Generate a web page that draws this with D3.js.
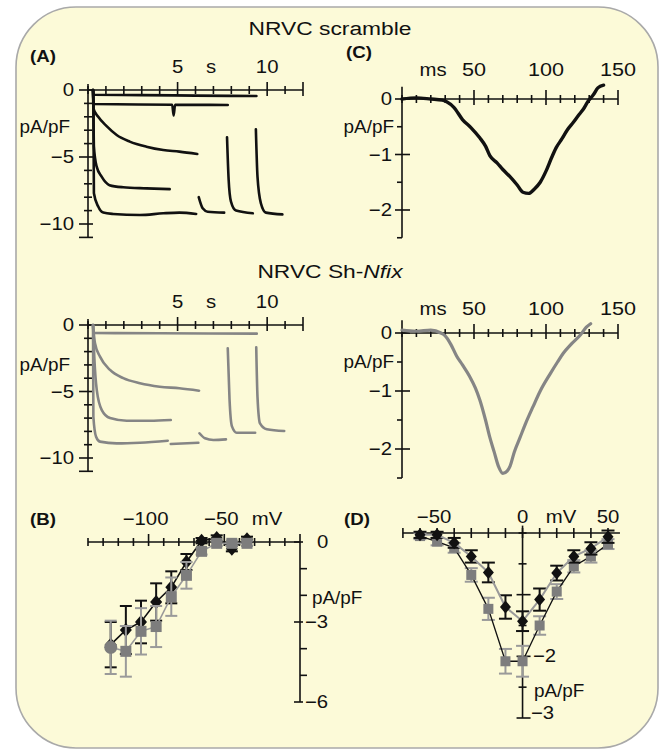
<!DOCTYPE html>
<html><head><meta charset="utf-8">
<script src="https://cdn.jsdelivr.net/npm/d3@7"></script>
<style>
body{margin:0;background:#fff}
svg{display:block}
text{font-family:"Liberation Sans",Arial,sans-serif;fill:#111}
</style></head>
<body><svg id="c" width="664" height="750"></svg>
<script>
// ---------------- DATA ----------------
const titleTop = "NRVC scramble";
const titleBottomPlain = "NRVC Sh-";
const titleBottomItalic = "Nfix";
const panelLabels = ["(A)", "(B)", "(C)", "(D)"];

// Panel A: current density (pA/pF) vs time (s), traces as [s, pA/pF]
const aTickLabels = [5, 10];
const aYTickLabels = [0, -5, -10];
const aScr1 = [[0.28,0],[0.32,-0.35],[3,-0.38],[6,-0.42],[9.4,-0.45]];
const aScr2 = [[0.28,0],[0.32,-1.05],[4.7,-1.1],[4.78,-1.9],[4.86,-1.1],[7.8,-1.12]];
const aScr3 = [[0.28,0],[0.3,-1.37],[0.57,-2.0],[1.04,-2.7],[1.6,-3.36],[2.33,-3.85],[3.26,-4.23],[4.2,-4.48],[5.1,-4.6],[6.1,-4.78]];
const aScr4 = [[0.28,0],[0.3,-1],[0.33,-4.23],[0.48,-5.7],[0.76,-6.47],[1.2,-7.1],[1.96,-7.26],[3.26,-7.34],[4.56,-7.4]];
const aScr5 = [[0.28,0],[0.3,-1],[0.33,-7.7],[0.57,-8.7],[0.85,-9.15],[1.4,-9.25],[2.9,-9.33],[4.2,-9.2],[5.1,-9.15],[6.04,-9.25]];
const aScr6 = [[6.18,-8.0],[6.4,-8.83],[6.68,-9.08],[7.6,-9.15]];
const aScr7 = [[7.76,-3.53],[7.85,-6.7],[7.98,-8.33],[8.26,-9.0],[9.2,-9.2]];
const aScr8 = [[9.37,-2.94],[9.46,-6.47],[9.65,-8.46],[9.93,-9.15],[10.85,-9.28]];

const aSh1 = [[0.28,0],[0.3,-0.6],[4,-0.62],[9.42,-0.65]];
const aSh2 = [[0.28,0],[0.39,-1.37],[0.67,-2.38],[1.23,-3.38],[1.97,-4.0],[2.9,-4.38],[4.0,-4.64],[5.1,-4.76],[6.2,-4.94]];
const aSh3 = [[0.28,0],[0.35,-2.38],[0.49,-4.9],[0.77,-6.4],[1.23,-7.0],[2.16,-7.2],[3.46,-7.2],[4.62,-7.14]];
const aSh4 = [[0.28,0],[0.3,-6.9],[0.45,-8.4],[0.67,-8.77],[1.6,-8.9],[2.9,-8.85],[4.45,-8.7]];
const aSh5 = [[4.62,-8.95],[6.16,-8.85]];
const aSh6 = [[6.22,-8.14],[6.53,-8.52],[7.0,-8.65],[7.7,-8.6]];
const aSh7 = [[7.8,-1.75],[7.9,-5.6],[8.03,-7.6],[8.3,-8.1],[9.33,-8.1]];
const aSh8 = [[9.39,-1.68],[9.46,-5.4],[9.6,-7.4],[9.98,-7.84],[10.95,-7.97]];

// Panel C: current density (pA/pF) vs time (ms)
const cTickLabels = [50, 100, 150];
const cYTickLabels = [0, -1, -2];
const cScr = [[0,0],[10,0.02],[20,0],[28,-0.02],[31,-0.05],[36,-0.15],[42,-0.37],[48,-0.52],[54,-0.7],[58,-0.85],[61,-1.02],[66,-1.15],[70,-1.27],[75,-1.4],[80,-1.55],[84,-1.68],[88,-1.7],[92,-1.62],[96,-1.5],[100,-1.3],[104,-1.05],[107,-0.88],[111,-0.72],[115,-0.55],[119,-0.42],[123,-0.28],[126,-0.18],[129,-0.05],[133,0.08],[136,0.2],[140,0.25]];
const cSh = [[0,0.05],[10,0.03],[20,0.05],[27,0],[30,-0.05],[34,-0.2],[38,-0.4],[42,-0.55],[47,-0.75],[51,-0.95],[54,-1.15],[58,-1.5],[61,-1.8],[64,-2.05],[67,-2.3],[70,-2.42],[73,-2.38],[75,-2.3],[78,-2.05],[82,-1.8],[86,-1.55],[91,-1.27],[96,-1.0],[103,-0.7],[108,-0.5],[112,-0.35],[118,-0.18],[124,-0.03],[128,0.1],[131,0.16]];

// Panel B: I-V (mV vs pA/pF)
const bTickLabels = [-100, -50];
const bYTickLabels = [0, -3, -6];
const bV = [-125,-115,-105,-95,-85,-75,-65,-55,-45,-35];
const bScrI = [-3.85,-3.3,-3.0,-2.25,-1.7,-0.75,0.05,0.15,-0.25,0.1];
const bScrErr = [0.85,0.9,0.8,0.7,0.6,0.3,0.1,0.1,0.1,0.1];
const bShI = [-3.95,-4.1,-3.35,-3.17,-2.05,-1.25,-0.35,-0.05,-0.05,-0.05];
const bShErr = [1.0,0.95,0.87,0.77,0.72,0.5,0.12,0.1,0.1,0.1];

// Panel D: I-V (mV vs pA/pF)
const dTickLabels = [-50, 0, 50];
const dYTickLabels = [-2, -3];
const dV = [-60,-50,-40,-30,-20,-10,0,10,20,30,40,50];
const dScrI = [-0.03,-0.03,-0.16,-0.38,-0.64,-1.2,-1.43,-1.08,-0.65,-0.38,-0.25,-0.06];
const dScrErr = [0.05,0.05,0.08,0.1,0.16,0.19,0.16,0.18,0.12,0.1,0.1,0.1];
const dShI = [-0.05,-0.14,-0.24,-0.68,-1.23,-2.08,-2.08,-1.5,-0.95,-0.54,-0.38,-0.18];
const dShErr = [0.05,0.06,0.08,0.11,0.18,0.2,0.25,0.15,0.12,0.1,0.1,0.08];

// ---------------- DRAWING ----------------
const SX = 1.13;           // lettering in the original is horizontally widened
const BLACK = "#111", GRAY = "#858585", GRAYM = "#7d7d7d", GRAYE = "#9a9a9a";
const svg = d3.select("#c");

svg.append("rect").attr("x",16).attr("y",7).attr("width",642).attr("height",741)
  .attr("rx",60).attr("ry",60).attr("fill","#fcfad8").attr("stroke","#a9a9a9").attr("stroke-width",1.6);

function txt(x, y, s, o = {}) {
  const t = svg.append("text")
    .attr("transform", `translate(${x},${y}) scale(${o.sx || SX},1)`)
    .attr("text-anchor", o.anchor || "start")
    .attr("dominant-baseline", o.mid ? "central" : "auto")
    .style("font-size", (o.size || 18) + "px")
    .style("font-weight", o.bold ? "bold" : "normal");
  t.text(s);
  return t;
}
const fmt = v => (v < 0 ? "\u2212" + Math.abs(v) : "" + v);

function hAxis(x, y, ext, ticks, up, down, majors, mUp, mDown) {
  const g = svg.append("g").attr("stroke", BLACK).attr("stroke-width", 1.6);
  g.append("line").attr("x1", x(ext[0])).attr("x2", x(ext[1])).attr("y1", y).attr("y2", y);
  ticks.forEach(v => {
    const m = majors.includes(v);
    g.append("line").attr("x1", x(v)).attr("x2", x(v))
      .attr("y1", y - (m ? mUp : up)).attr("y2", y + (m ? mDown : down));
  });
}
function vAxis(yS, x, ext, ticks, left, right, majors, mL, mR) {
  const g = svg.append("g").attr("stroke", BLACK).attr("stroke-width", 1.6);
  g.append("line").attr("y1", yS(ext[0])).attr("y2", yS(ext[1])).attr("x1", x).attr("x2", x);
  ticks.forEach(v => {
    const m = majors.includes(v);
    g.append("line").attr("y1", yS(v)).attr("y2", yS(v))
      .attr("x1", x - (m ? mL : left)).attr("x2", x + (m ? mR : right));
  });
}
function trace(x, y, pts, color, w) {
  svg.append("path").datum(pts)
    .attr("d", d3.line().x(d => x(d[0])).y(d => y(d[1])).curve(d3.curveMonotoneX))
    .attr("fill", "none").attr("stroke", color).attr("stroke-width", w)
    .attr("stroke-linejoin", "round").attr("stroke-linecap", "round");
}

// titles
txt(330, 35, titleTop, {anchor: "middle", size: 19, sx: 1.2});
{
  const t = txt(330, 278, "", {anchor: "middle", size: 19, sx: 1.2});
  t.append("tspan").text(titleBottomPlain);
  t.append("tspan").style("font-style", "italic").text(titleBottomItalic);
}
txt(30, 62, panelLabels[0], {bold: true, size: 17, sx: 1.1});
txt(346, 58, panelLabels[2], {bold: true, size: 17, sx: 1.1});
txt(30, 525, panelLabels[1], {bold: true, size: 17, sx: 1.1});
txt(344, 525, panelLabels[3], {bold: true, size: 17, sx: 1.1});

// ---- Panel A ----
const xA = d3.scaleLinear().domain([0, 12]).range([88, 303]);
const yA1 = d3.scaleLinear().domain([0, -10]).range([90, 224]);
const yA2 = d3.scaleLinear().domain([0, -10]).range([325, 458]);
[[yA1, 73, 127], [yA2, 308, 365]].forEach(([yS, lab, unitY]) => {
  hAxis(xA, yS(0), [0, 12], d3.range(0, 13), 4, 4, [5, 10, 12], 8, 6);
  vAxis(yS, xA(0), [0.45, -11], d3.range(0, -12, -1), 4, 4, [0, -5, -10, -11], 9, 5);
  aTickLabels.forEach(v => txt(xA(v), lab, fmt(v), {anchor: "middle"}));
  txt(211, lab, "s", {anchor: "middle"});
  aYTickLabels.forEach(v => txt(74, yS(v), fmt(v), {anchor: "end", mid: true}));
  txt(70, unitY, "pA/pF", {anchor: "end", mid: true, sx: 1.05});
});
[aScr1, aScr2, aScr3, aScr4, aScr5, aScr6, aScr7, aScr8].forEach(p => trace(xA, yA1, p, BLACK, 2.6));
[aSh1, aSh2, aSh3, aSh4, aSh5, aSh6, aSh7, aSh8].forEach(p => trace(xA, yA2, p, GRAY, 2.6));

// ---- Panel C ----
const xC = d3.scaleLinear().domain([0, 150]).range([402, 618]);
const yC1 = d3.scaleLinear().domain([0, -2]).range([99, 210]);
const yC2 = d3.scaleLinear().domain([0, -2]).range([333, 449]);
[[yC1, 76, -0.5], [yC2, 315, -0.5]].forEach(([yS, lab, unitV]) => {
  hAxis(xC, yS(0), [0, 150], d3.range(0, 151, 10), 4, 4, [50, 100, 150], 9, 6);
  vAxis(yS, xC(0), [0.22, -2.5], [0, -0.5, -1, -1.5, -2, -2.5], 5, 0, [0, -1, -2], 7, 8);
  cTickLabels.forEach(v => txt(xC(v), lab, fmt(v), {anchor: "middle", sx: 1.2}));
  txt(433, lab, "ms", {anchor: "middle"});
  cYTickLabels.forEach(v => txt(392, yS(v), fmt(v), {anchor: "end", mid: true}));
  txt(394, yS(unitV), "pA/pF", {anchor: "end", mid: true, sx: 1.05});
});
trace(xC, yC1, cScr, BLACK, 3.4);
trace(xC, yC2, cSh, GRAY, 3.2);

// ---- marker helpers ----
function diamond(x, y, w, h, fill) {
  svg.append("path").attr("d", `M${x},${y - h / 2}L${x + w / 2},${y}L${x},${y + h / 2}L${x - w / 2},${y}Z`).attr("fill", fill);
}
function square(x, y, s, fill) {
  svg.append("rect").attr("x", x - s / 2).attr("y", y - s / 2).attr("width", s).attr("height", s).attr("fill", fill);
}
function errbars(x, y, V, I, E, color, cap) {
  const g = svg.append("g").attr("stroke", color).attr("stroke-width", 2);
  V.forEach((v, i) => {
    const xx = x(v), y1 = y(I[i] + E[i]), y2 = y(I[i] - E[i]);
    g.append("line").attr("x1", xx).attr("x2", xx).attr("y1", y1).attr("y2", y2);
    g.append("line").attr("x1", xx - cap / 2).attr("x2", xx + cap / 2).attr("y1", y1).attr("y2", y1);
    g.append("line").attr("x1", xx - cap / 2).attr("x2", xx + cap / 2).attr("y1", y2).attr("y2", y2);
  });
}
function polyline(x, y, V, I, color, w) {
  svg.append("path").datum(V.map((v, i) => [v, I[i]]))
    .attr("d", d3.line().x(d => x(d[0])).y(d => y(d[1])))
    .attr("fill", "none").attr("stroke", color).attr("stroke-width", w);
}

// ---- Panel B ----
const xB = d3.scaleLinear().domain([-140, 0]).range([88, 300]);
const yB = d3.scaleLinear().domain([0, -6]).range([542, 702]);
hAxis(xB, yB(0), [-140, 0], d3.range(-140, 0, 10), 4, 4, [-100, -50], 8, 4);
vAxis(yB, xB(0), [0.3, -6], d3.range(0, -7, -1), 0, 7, [0, -3, -6], 6, 3);
bTickLabels.forEach(v => txt(xB(v) - 3, 525, fmt(v), {anchor: "middle"}));
txt(267, 525, "mV", {anchor: "middle"});
txt(317, yB(0), "0", {mid: true});
txt(312, 598, "pA/pF", {mid: true, sx: 1.05});
[-3, -6].forEach(v => txt(305, yB(v), fmt(v), {mid: true}));
errbars(xB, yB, bV, bScrI, bScrErr, BLACK, 12);
polyline(xB, yB, bV, bScrI, BLACK, 1.6);
bV.forEach((v, i) => diamond(xB(v), yB(bScrI[i]), 12, 14, BLACK));
errbars(xB, yB, bV, bShI, bShErr, GRAYE, 12);
polyline(xB, yB, bV, bShI, GRAYE, 1.6);
bV.forEach((v, i) => {
  if (i === 0) svg.append("circle").attr("cx", xB(v)).attr("cy", yB(bShI[i])).attr("r", 6.5).attr("fill", GRAYM);
  else square(xB(v), yB(bShI[i]), 11, GRAYM);
});

// ---- Panel D ----
const xD = d3.scaleLinear().domain([-60, 50]).range([420, 608]);
const yD = d3.scaleLinear().domain([0, -3]).range([533, 718]);
hAxis(xD, yD(0), [-70, 57], d3.range(-70, 51, 10), 5, 5, [], 5, 5);
vAxis(yD, xD(0), [0.12, -3], d3.range(0, -3.01, -0.5).map(v => +v.toFixed(1)), 4, 4, [-1, -2, -3], 6, 8);
dTickLabels.forEach(v => txt(xD(v) - (v < 0 ? 3 : 0), 523, fmt(v), {anchor: "middle"}));
txt(561, 523, "mV", {anchor: "middle"});
txt(533, yD(-2), fmt(-2), {mid: true});
txt(534, 691, "pA/pF", {mid: true, sx: 1.05});
txt(531, 713, fmt(-3), {mid: true});
errbars(xD, yD, dV, dShI, dShErr, GRAYE, 13);
polyline(xD, yD, dV, dShI, BLACK, 1.3);
dV.forEach((v, i) => square(xD(v), yD(dShI[i]), 10, GRAYM));
errbars(xD, yD, dV, dScrI, dScrErr, BLACK, 13);
polyline(xD, yD, dV, dScrI, GRAYE, 2);
dV.forEach((v, i) => diamond(xD(v), yD(dScrI[i]), 11, 13, BLACK));
</script></body></html>
